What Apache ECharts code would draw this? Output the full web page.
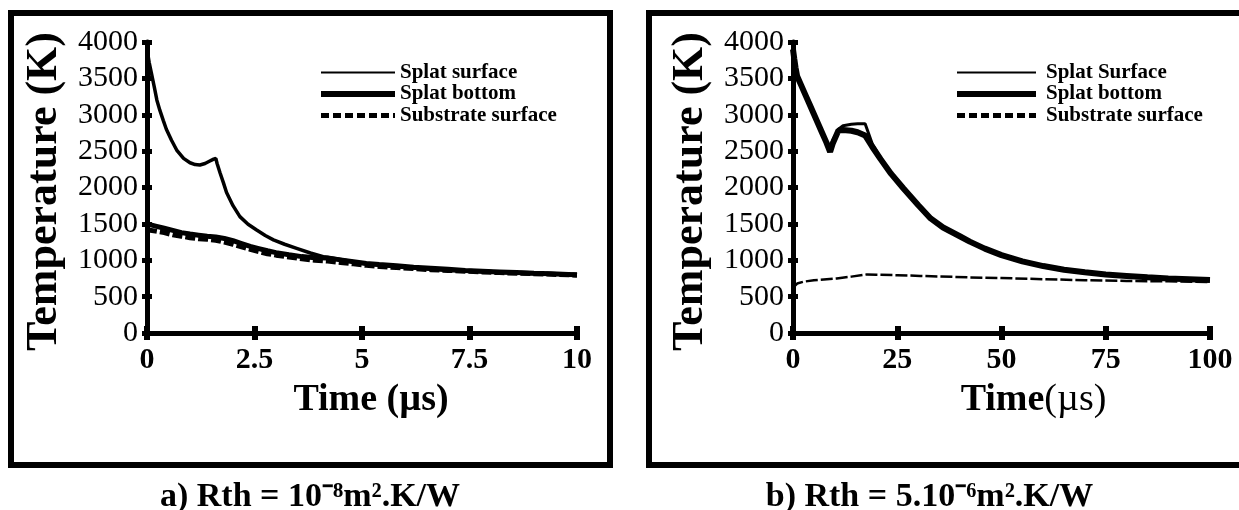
<!DOCTYPE html>
<html>
<head>
<meta charset="utf-8">
<script src="https://cdn.jsdelivr.net/npm/echarts@6/dist/echarts.min.js"></script>
<style>
html,body{margin:0;padding:0;background:#fff;}
#a{position:absolute;left:0;top:0;width:620px;height:510px;}
#b{position:absolute;left:620px;top:0;width:619px;height:510px;}
</style>
</head>
<body>
<div id="a"></div>
<div id="b"></div>
<script>
// ---------- Panel a: Rth = 1e-8 ----------
const aTicksX = [0, 2.5, 5, 7.5, 10];
const aSurfT = [0,0.05,0.1,0.17,0.23,0.3,0.38,0.45,0.57,0.69,0.85,1.0,1.12,1.23,1.35,1.45,1.55,1.6,1.63,1.7,1.78,1.85,2.0,2.16,2.35,2.55,2.75,2.94,3.2,3.48,3.8,4.1,4.5,5.0,5.5,6.0,7.0,8.0,9.0,10.0];
const aSurfV = [3900,3720,3580,3380,3200,3060,2920,2800,2650,2515,2400,2340,2315,2310,2330,2360,2390,2400,2330,2200,2060,1930,1750,1600,1495,1416,1340,1280,1220,1164,1100,1050,1010,960,925,900,860,835,815,800];
const aBandT = [0,0.2,0.4,0.6,0.8,1.0,1.2,1.4,1.6,1.8,2.0,2.2,2.4,2.6,2.8,3.0,3.3,3.6,3.9,4.2,4.5,4.8,5.1,5.4,5.8,6.2,6.6,7.0,7.4,7.8,8.2,8.6,9.0,9.4,9.8,10.0];
const aBotV = [1500,1470,1440,1410,1380,1360,1345,1330,1320,1300,1270,1230,1190,1160,1130,1105,1075,1050,1035,1030,1005,980,955,940,925,905,890,875,860,850,840,830,820,815,805,800];
const aSubV = [1420,1400,1380,1350,1330,1310,1295,1290,1275,1250,1220,1185,1150,1120,1090,1070,1045,1020,1000,990,970,950,930,915,900,885,870,860,850,840,830,822,815,808,800,795];

// ---------- Panel b: Rth = 5e-6 ----------
const bTicksX = [0, 25, 50, 75, 100];
const bT = [0,0.3,0.6,1,2,3,4,5,6,7,8,8.9,9.5,10.9,12,14,15.5,17.3,19,21,23.5,26.5,30,33,36,40,42.4,46,50,55,60,65,70,75,80,85,90,95,100];
const bSurfV = [3860,3740,3630,3520,3390,3270,3150,3020,2895,2765,2640,2560,2650,2800,2850,2870,2875,2877,2600,2410,2200,1995,1770,1585,1455,1335,1262,1165,1075,990,925,875,838,808,788,768,752,742,728];
const bBotV  = [3900,3770,3650,3530,3400,3270,3140,3010,2880,2750,2620,2490,2600,2785,2790,2780,2760,2716,2560,2390,2190,1986,1760,1575,1450,1330,1256,1160,1070,985,920,870,835,805,785,765,750,740,730];
const bSubT = [0,0.5,1,2.5,5,10.5,14,17.7,20,25,30.5,42,50,60,70,80,90,100];
const bSubV = [620,650,680,705,725,750,775,805,800,795,785,765,755,740,725,715,710,700];

const yTicks = [0, 500, 1000, 1500, 2000, 2500, 3000, 3500, 4000];

const FONT = 'Liberation Serif';
const zip = (xs, ys) => xs.map((x, i) => [x, ys[i]]);

function makeOption(cfg) {
  const xMin = cfg.ticksX[0], xMax = cfg.ticksX[cfg.ticksX.length - 1], xInt = cfg.ticksX[1] - cfg.ticksX[0];
  const yMin = yTicks[0], yMax = yTicks[yTicks.length - 1], yInt = yTicks[1] - yTicks[0];
  return {
    animation: false,
    backgroundColor: '#fff',
    title: {
      text: cfg.caption, left: 'center', top: 475,
      textStyle: { fontFamily: FONT, fontWeight: 'bold', fontSize: 34, color: '#000' }
    },
    graphic: [{
      type: 'rect', shape: cfg.frame,
      style: { fill: 'none', stroke: '#000', lineWidth: 6 }, silent: true
    }],
    legend: {
      orient: 'vertical', left: cfg.legendLeft, top: 62, padding: 0,
      itemWidth: cfg.legendW, itemHeight: 14, itemGap: 0.5,
      itemStyle: { opacity: 0 },
      textStyle: { fontFamily: FONT, fontWeight: 'bold', fontSize: 21, lineHeight: 20, color: '#000', padding: cfg.legendTextPad },
      data: [
        { name: cfg.names[0], lineStyle: { width: 2, type: 'solid', color: '#000' } },
        { name: cfg.names[1], lineStyle: { width: 6, type: 'solid', color: '#000' } },
        { name: cfg.names[2], lineStyle: { width: 5, type: [8, 4], color: '#000' } }
      ]
    },
    grid: { left: cfg.gridLeft, top: 42, width: cfg.gridW, height: 291 },
    xAxis: [{
      type: 'value', min: xMin, max: xMax, interval: xInt, position: 'bottom',
      axisLine: { onZero: false, lineStyle: { color: '#000', width: 5 } },
      axisTick: { length: 7, lineStyle: { color: '#000', width: 6 } },
      splitLine: { show: false },
      axisLabel: { margin: 12, fontFamily: FONT, fontWeight: 'bold', fontSize: 30, color: '#000' },
      name: cfg.xName, nameLocation: 'middle', nameGap: 48,
      nameTextStyle: cfg.xNameStyle
    }, {
      type: 'value', min: xMin, max: xMax, interval: xInt, position: 'bottom',
      axisLine: { show: false, onZero: false },
      axisTick: { inside: true, length: 7, lineStyle: { color: '#000', width: 6 } },
      axisLabel: { show: false }, splitLine: { show: false }
    }],
    yAxis: [{
      type: 'value', min: yMin, max: yMax, interval: yInt, position: 'left',
      axisLine: { show: true, onZero: false, lineStyle: { color: '#000', width: 5 } },
      axisTick: { show: true, length: 5, lineStyle: { color: '#000', width: 5 } },
      splitLine: { show: false },
      axisLabel: { margin: 9, fontFamily: FONT, fontSize: 30, color: '#000', formatter: v => String(v) },
      name: 'Temperature (K)', nameLocation: 'middle', nameGap: 80,
      nameTextStyle: { fontFamily: FONT, fontWeight: 'bold', fontSize: 44, color: '#000', padding: [0, 8, 0, 0] }
    }, {
      type: 'value', min: yMin, max: yMax, interval: yInt, position: 'left',
      axisLine: { show: false, onZero: false },
      axisTick: { show: true, inside: true, length: 5, lineStyle: { color: '#000', width: 5 } },
      axisLabel: { show: false }, splitLine: { show: false }
    }],
    series: cfg.series.map(s => ({
      type: 'line', name: s.name, data: s.data, xAxisIndex: 0, yAxisIndex: 0,
      symbol: 'none', showSymbol: false, smooth: false,
      lineStyle: { color: '#000', width: s.width, type: s.type || 'solid' },
      itemStyle: { color: '#000' },
      z: s.z || 2
    }))
  };
}

const chartA = echarts.init(document.getElementById('a'), null, { renderer: 'canvas' });
chartA.setOption(makeOption({
  caption: 'a) Rth = 10\u207B\u2078m\u00B2.K/W',
  frame: { x: 11, y: 13, width: 599, height: 452 },
  legendLeft: 318, legendW: 74, legendTextPad: [0, 0, 0, 0],
  names: ['Splat surface', 'Splat bottom', 'Substrate surface'],
  gridLeft: 147, gridW: 430, ticksX: aTicksX,
  xName: 'Time (\u00B5s)',
  xNameStyle: { fontFamily: FONT, fontWeight: 'bold', fontSize: 38, color: '#000', padding: [0, 0, 0, 18] },
  series: [
    { name: 'Splat surface', data: zip(aSurfT, aSurfV), width: 3.5 },
    { name: 'Splat bottom', data: zip(aBandT, aBotV), width: 5 },
    { name: 'Substrate surface', data: zip(aBandT, aSubV), width: 5, type: [10, 3] }
  ]
}));

const chartB = echarts.init(document.getElementById('b'), null, { renderer: 'canvas' });
chartB.setOption(makeOption({
  caption: 'b) Rth = 5.10\u207B\u2076m\u00B2.K/W',
  frame: { x: 29, y: 13, width: 640, height: 452 },
  legendLeft: 334, legendW: 79, legendTextPad: [0, 0, 0, 5],
  names: ['Splat Surface', 'Splat bottom', 'Substrate surface'],
  gridLeft: 173, gridW: 417, ticksX: bTicksX,
  xName: '{b|Time}{r|(\u00B5s)}',
  xNameStyle: {
    fontFamily: FONT, fontSize: 38, color: '#000', padding: [0, 0, 0, 64],
    rich: {
      b: { fontFamily: FONT, fontWeight: 'bold', fontSize: 38, color: '#000' },
      r: { fontFamily: FONT, fontWeight: 'normal', fontSize: 38, color: '#000' }
    }
  },
  series: [
    { name: 'Splat Surface', data: zip(bT, bSurfV), width: 3 },
    { name: 'Splat bottom', data: zip(bT, bBotV), width: 6 },
    { name: 'Substrate surface', data: zip(bSubT, bSubV), width: 2.5, type: [12, 3] }
  ]
}));
</script>
</body>
</html>
